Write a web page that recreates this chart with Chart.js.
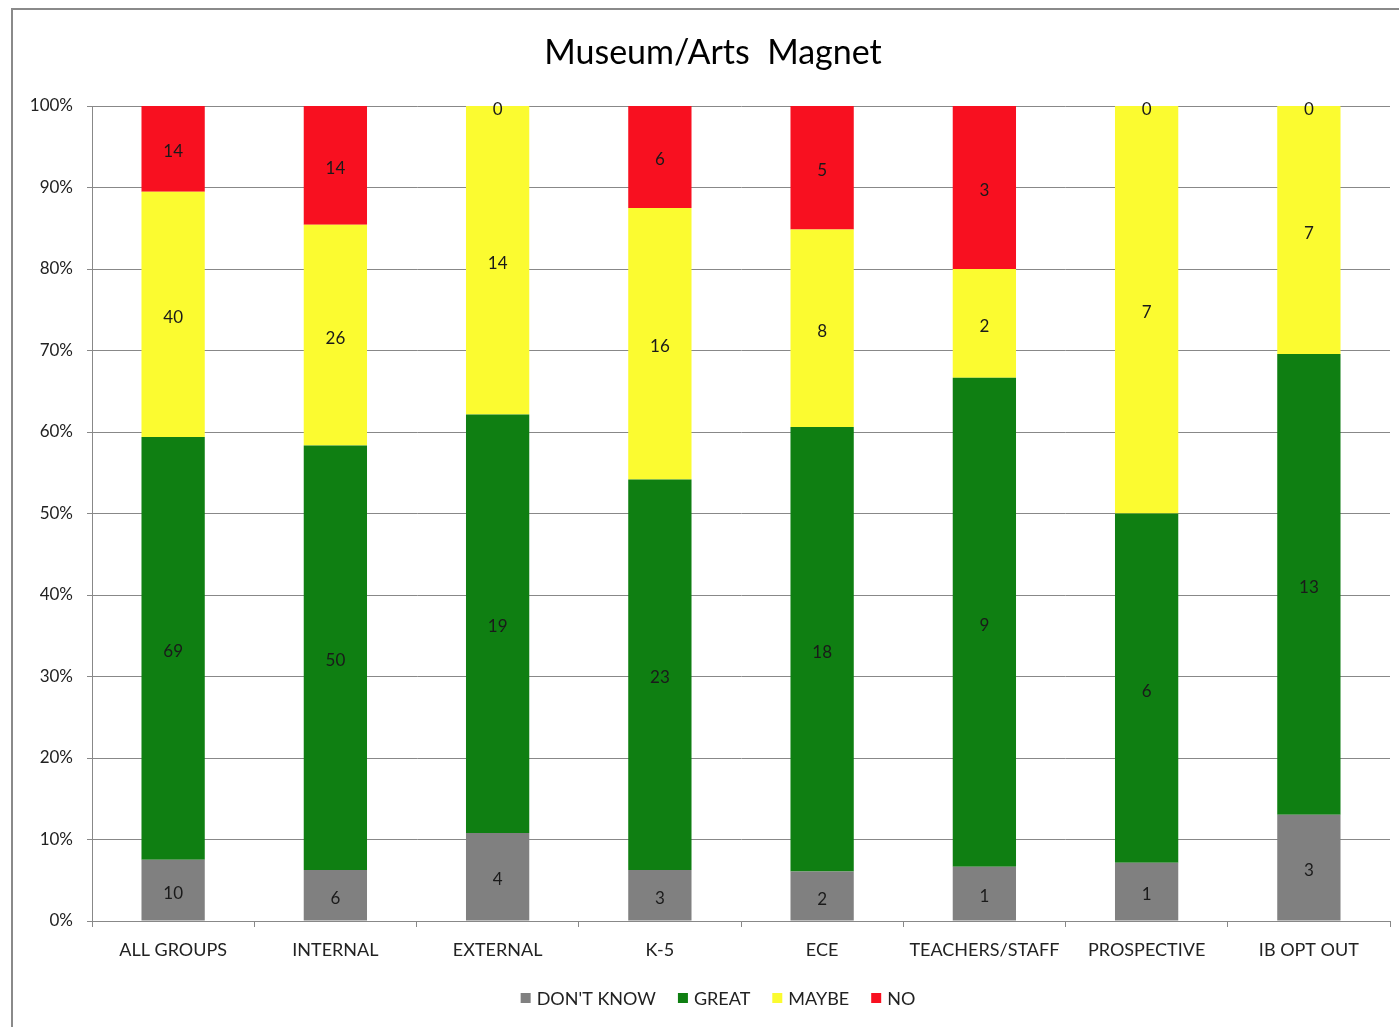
<!DOCTYPE html>
<html>
<head>
<meta charset="utf-8">
<title>Museum/Arts Magnet</title>
<script src="https://cdn.jsdelivr.net/npm/chart.js@4/dist/chart.umd.min.js"></script>
<style>
  html, body { margin: 0; padding: 0; background: #fff; }
  #wrap { position: relative; width: 1399px; height: 1027px; }
</style>
</head>
<body>
<div id="wrap"><canvas id="chart"></canvas></div>
<script>
'use strict';

// ── Data ──────────────────────────────────────────────────────
const categories = ['ALL GROUPS', 'INTERNAL', 'EXTERNAL', 'K-5', 'ECE', 'TEACHERS/STAFF', 'PROSPECTIVE', 'IB OPT OUT'];
const dontKnow   = [10, 6, 4, 3, 2, 1, 1, 3];
const great      = [69, 50, 19, 23, 18, 9, 6, 13];
const maybe      = [40, 26, 14, 16, 8, 2, 7, 7];
const no         = [14, 14, 0, 6, 5, 3, 0, 0];
const yTicks     = [0, 10, 20, 30, 40, 50, 60, 70, 80, 90, 100];
const chartTitle = 'Museum/Arts  Magnet';

const FONT = 'Lato, "Open Sans", "DejaVu Sans", sans-serif';
const totals = categories.map((_, i) => dontKnow[i] + great[i] + maybe[i] + no[i]);
const pct = arr => arr.map((v, i) => v / totals[i] * 100);

const series = [
  { label: "DON'T KNOW", counts: dontKnow, color: '#808080' },
  { label: 'GREAT',      counts: great,    color: '#0f7f12' },
  { label: 'MAYBE',      counts: maybe,    color: '#fbfb30' },
  { label: 'NO',         counts: no,       color: '#f81020' }
];

// ── Frame, title and legend (Excel-style placement) ───────────
const decorPlugin = {
  id: 'decor',
  beforeDraw(chart) {
    const { ctx, width, height } = chart;
    ctx.save();
    ctx.strokeStyle = '#8a8a8a';
    ctx.lineWidth = 2;
    ctx.beginPath();
    ctx.moveTo(12, height);
    ctx.lineTo(12, 9);
    ctx.lineTo(width, 9);
    ctx.stroke();
    ctx.restore();
  },
  afterDraw(chart) {
    const { ctx } = chart;
    ctx.save();
    // title
    ctx.font = '34px ' + FONT;
    ctx.fillStyle = '#000';
    ctx.textAlign = 'center';
    ctx.textBaseline = 'middle';
    ctx.fillText(chartTitle, 713, 53);

    // legend
    ctx.font = '18px ' + FONT;
    ctx.textAlign = 'left';
    const box = 10, gapIn = 6, gapOut = 22;
    const items = chart.data.datasets.map(ds => ({
      label: ds.label, color: ds.backgroundColor, w: ctx.measureText(ds.label).width
    }));
    const total = items.reduce((a, it) => a + box + gapIn + it.w, 0) + gapOut * (items.length - 1);
    let x = 718 - total / 2;
    const y = 998;
    items.forEach(it => {
      ctx.fillStyle = it.color;
      ctx.fillRect(x, y - box / 2, box, box);
      ctx.fillStyle = '#222';
      ctx.fillText(it.label, x + box + gapIn, y + 1);
      x += box + gapIn + it.w + gapOut;
    });
    ctx.restore();
  }
};

// ── Segment value labels ──────────────────────────────────────
const valueLabels = {
  id: 'valueLabels',
  afterDatasetsDraw(chart) {
    const { ctx } = chart;
    ctx.save();
    ctx.font = '17px ' + FONT;
    ctx.fillStyle = '#1a1a1a';
    ctx.textAlign = 'center';
    ctx.textBaseline = 'middle';
    chart.data.datasets.forEach((ds, di) => {
      chart.getDatasetMeta(di).data.forEach((bar, i) => {
        const top = Math.min(bar.y, bar.base);
        const bottom = Math.max(bar.y, bar.base);
        let y = (top + bottom) / 2 + 3;
        if (bottom - top < 12) y = top + 4;
        ctx.fillText(String(ds.counts[i]), bar.x, y);
      });
    });
    ctx.restore();
  }
};

new Chart(document.getElementById('chart'), {
  type: 'bar',
  data: {
    labels: categories,
    datasets: series.map(s => ({
      label: s.label,
      counts: s.counts,
      data: pct(s.counts),
      backgroundColor: s.color,
      borderWidth: 0,
      categoryPercentage: 1,
      barPercentage: 0.39
    }))
  },
  options: {
    responsive: true,
    maintainAspectRatio: false,
    animation: false,
    layout: { padding: { left: 0, right: 9, top: 106, bottom: 56 } },
    plugins: {
      title: { display: false },
      legend: { display: false },
      tooltip: { enabled: false }
    },
    scales: {
      x: {
        stacked: true,
        grid: { display: true, drawOnChartArea: false, drawTicks: true, tickLength: 6, color: '#888', offset: true },
        border: { color: '#888', width: 1 },
        ticks: { color: '#222', font: { family: FONT, size: 18 }, padding: 12, maxRotation: 0, autoSkip: false },
        afterFit: s => { s.height = 50; }
      },
      y: {
        stacked: true,
        min: 0,
        max: 100,
        afterBuildTicks: s => { s.ticks = yTicks.map(v => ({ value: v })); },
        grid: { color: '#888', tickLength: 5 },
        border: { color: '#888', width: 1 },
        ticks: { color: '#222', font: { family: FONT, size: 17 }, padding: 14, callback: v => v + '%' },
        afterFit: s => { s.width = 92; }
      }
    }
  },
  plugins: [decorPlugin, valueLabels]
});
</script>
</body>
</html>
